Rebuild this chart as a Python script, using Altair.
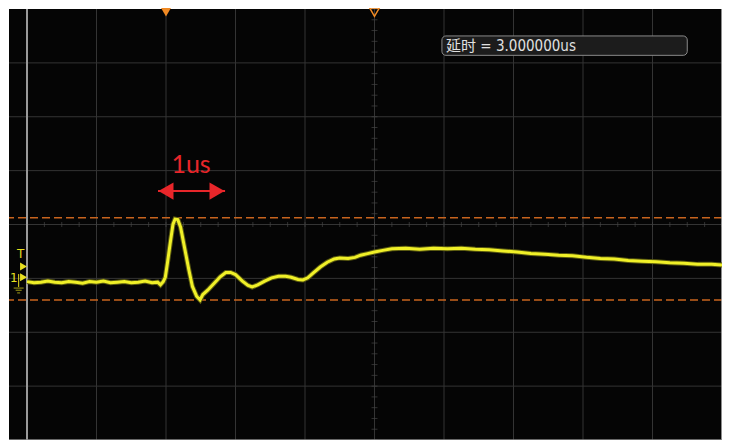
import altair as alt
import pandas as pd

# ---- data (scope units: time in us from trigger, volts in divisions) ----
trace_t = [-2.00, -1.90, -1.80, -1.70, -1.60, -1.50, -1.40, -1.30, -1.20, -1.10, -1.00, -0.90,
           -0.80, -0.70, -0.60, -0.50, -0.40, -0.30, -0.20, -0.12, -0.08, -0.04, -0.01,
           0.02, 0.06, 0.10, 0.13, 0.17, 0.21, 0.27, 0.33, 0.38, 0.44, 0.49, 0.53, 0.60, 0.70,
           0.78, 0.86, 0.93, 1.00, 1.10, 1.18, 1.24, 1.32, 1.42, 1.52, 1.62, 1.72, 1.80, 1.90,
           1.97, 2.04, 2.12, 2.22, 2.32, 2.42, 2.50, 2.62, 2.72, 2.80, 2.90, 3.00, 3.12, 3.25,
           3.45, 3.65, 3.85, 4.05, 4.25, 4.45, 4.65, 4.85, 5.05, 5.25, 5.45, 5.65, 5.85, 6.05,
           6.25, 6.45, 6.65, 6.85, 7.05, 7.25, 7.45, 7.65, 7.85, 8.00]
trace_v = [-1.06, -1.08, -1.07, -1.05, -1.07, -1.08, -1.06, -1.07, -1.09, -1.06, -1.07, -1.05,
           -1.08, -1.07, -1.06, -1.08, -1.07, -1.05, -1.08, -1.07, -1.12, -1.06, -0.98,
           -0.72, -0.35, 0.00, 0.10, 0.09, -0.05, -0.45, -0.85, -1.15, -1.33, -1.40, -1.30, -1.22, -1.08,
           -0.97, -0.89, -0.89, -0.93, -1.05, -1.13, -1.16, -1.12, -1.05, -0.99, -0.96, -0.96, -0.98, -1.02,
           -1.03, -0.99, -0.90, -0.79, -0.70, -0.64, -0.62, -0.63, -0.61, -0.57, -0.54, -0.51, -0.48, -0.45,
           -0.44, -0.46, -0.44, -0.45, -0.44, -0.46, -0.47, -0.49, -0.51, -0.54, -0.55, -0.57, -0.58, -0.61,
           -0.63, -0.64, -0.67, -0.68, -0.69, -0.71, -0.72, -0.74, -0.74, -0.75]

grid_t = [-1, 0, 1, 2, 3, 4, 5, 6, 7]
grid_v = [-3, -2, -1, 0, 1, 2, 3]
minor_t = [-2 + 0.25 * i for i in range(41)]
minor_v = [-4 + 0.2 * i for i in range(41)]
cursor_v = [0.126, -1.40]
marker_t = [0, 3]
arrow_t = [-0.115, 0.85]
arrow_head_t = [0.0, 0.734]
arrow_v = 0.62
label_text = "1us"
delay_text = "延时 = 3.000000us"

xs = alt.Scale(domain=[-2.259, 8.0], nice=False, zero=False)
ys = alt.Scale(domain=[-4, 4], nice=False, zero=False)

def X(f="t"):
    return alt.X(f"{f}:Q", scale=xs, axis=None)

def Y(f="v"):
    return alt.Y(f"{f}:Q", scale=ys, axis=None)

GRID = "#343434"
RED = "#e8262a"
ORANGE = "#f08a24"
YEL = "#e8e020"

vgrid = alt.Chart(pd.DataFrame({"t": grid_t})).mark_rule(color=GRID, strokeWidth=1).encode(x=X())
hgrid = alt.Chart(pd.DataFrame({"v": grid_v})).mark_rule(color=GRID, strokeWidth=1).encode(y=Y())

htick = alt.Chart(pd.DataFrame({"t": minor_t, "v": [0] * len(minor_t)})).mark_tick(
    orient="vertical", size=5, thickness=1, color="#444444").encode(x=X(), y=Y())
vtick = alt.Chart(pd.DataFrame({"t": [3] * len(minor_v), "v": minor_v})).mark_tick(
    orient="horizontal", size=6, thickness=1, color="#444444").encode(x=X(), y=Y())

cursors = alt.Chart(pd.DataFrame({"v": cursor_v})).mark_rule(
    color="#c8641e", strokeDash=[8, 4], strokeWidth=1.5).encode(y=Y())

left_border = alt.Chart(pd.DataFrame({"t": [-2.0]})).mark_rule(color="#9a9a9a", strokeWidth=2).encode(x=X())
right_border = alt.Chart(pd.DataFrame({"t": [8.0]})).mark_rule(color="#bbbbbb", strokeWidth=1.5, clip=False).encode(x=X())
bottom_border = alt.Chart(pd.DataFrame({"v": [-4.0]})).mark_rule(color="#8a8a8a", strokeWidth=1.5, clip=False).encode(y=Y())

tdf = pd.DataFrame({"t": trace_t, "v": trace_v})
glow = alt.Chart(tdf).mark_line(color="#5a5a10", strokeWidth=5, clip=True).encode(x=X(), y=Y())
trace = alt.Chart(tdf).mark_line(color="#f0f028", strokeWidth=3, clip=True).encode(x=X(), y=Y())

# red arrow
adf = pd.DataFrame({"t": [arrow_t[0]], "t2": [arrow_t[1]], "v": [arrow_v]})
arrow_line = alt.Chart(adf).mark_rule(color=RED, strokeWidth=2).encode(x=X(), x2="t2:Q", y=Y())
head_l = alt.Chart(pd.DataFrame({"t": [arrow_head_t[0]], "v": [arrow_v]})).mark_point(
    shape="triangle-left", size=300, filled=True, opacity=1, color=RED).encode(x=X(), y=Y())
head_r = alt.Chart(pd.DataFrame({"t": [arrow_head_t[1]], "v": [arrow_v]})).mark_point(
    shape="triangle-right", size=300, filled=True, opacity=1, color=RED).encode(x=X(), y=Y())
label = alt.Chart(pd.DataFrame({"t": [0.36], "v": [0.955], "s": [label_text]})).mark_text(
    font="Lato", fontSize=25, color=RED, align="center", baseline="alphabetic").encode(
    x=X(), y=Y(), text="s:N")

# delay box
box = alt.Chart(pd.DataFrame({"t": [3.97], "t2": [7.50], "v": [3.50], "v2": [3.14]})).mark_rect(
    fill="#1c1c1c", stroke="#8a8a8a", strokeWidth=1, cornerRadius=4).encode(
    x=X(), x2="t2:Q", y=Y(), y2="v2:Q")
box_text = alt.Chart(pd.DataFrame({"t": [4.03], "v": [3.215], "s": [delay_text]})).mark_text(
    font="Liberation Sans Narrow, DejaVu Sans Condensed, Noto Sans CJK SC", fontSize=15,
    color="#e0e0e0", align="left", baseline="alphabetic").encode(x=X(), y=Y(), text="s:N")

# top markers
mk_fill = alt.Chart(pd.DataFrame({"t": [marker_t[0]], "v": [3.94]})).mark_point(
    shape="triangle-down", size=100, filled=True, opacity=1, color=ORANGE, clip=False).encode(x=X(), y=Y())
mk_hollow = alt.Chart(pd.DataFrame({"t": [marker_t[1]], "v": [3.94]})).mark_point(
    shape="triangle-down", size=90, filled=False, strokeWidth=1.5, opacity=1, color=ORANGE, clip=False).encode(x=X(), y=Y())

# left channel markers
tri_left = alt.Chart(pd.DataFrame({"t": [-2.05, -2.05], "v": [-0.78, -0.98]})).mark_point(
    shape="triangle-right", size=64, filled=True, opacity=1, color=YEL).encode(x=X(), y=Y())
t_label = alt.Chart(pd.DataFrame({"t": [-2.09], "v": [-0.62], "s": ["T"]})).mark_text(
    font="DejaVu Sans", fontSize=12, color=YEL, align="center", baseline="alphabetic").encode(
    x=X(), y=Y(), text="s:N")
one_label = alt.Chart(pd.DataFrame({"t": [-2.19], "v": [-1.07], "s": ["1"]})).mark_text(
    font="DejaVu Sans", fontSize=12, color=YEL, align="center", baseline="alphabetic").encode(
    x=X(), y=Y(), text="s:N")
bracket = alt.Chart(pd.DataFrame({"t": [-2.12], "v": [-0.92], "v2": [-1.16]})).mark_rule(
    color=YEL, strokeWidth=1).encode(x=X(), y=Y(), y2="v2:Q")
ground = alt.Chart(pd.DataFrame({"t": [-2.12, -2.12, -2.12], "v": [-1.18, -1.22, -1.27], "w": [10, 6, 3]})).mark_tick(
    orient="horizontal", thickness=1, color=YEL).encode(x=X(), y=Y(), size=alt.Size("w:Q", scale=None, legend=None))

chart = alt.layer(
    vgrid, hgrid, htick, vtick, cursors, left_border, right_border, bottom_border,
    glow, trace, arrow_line, head_l, head_r, label, box, box_text,
    mk_fill, mk_hollow, tri_left, t_label, one_label, bracket, ground
).properties(
    width=713, height=431,
    autosize=alt.AutoSizeParams(type="none"),
    padding={"left": 1, "top": 1, "right": 0, "bottom": 0},
    background="#ffffff",
).configure_view(fill="#050505", stroke=None)

chart.save("out.html", embed_options={"renderer": "svg", "actions": False})
